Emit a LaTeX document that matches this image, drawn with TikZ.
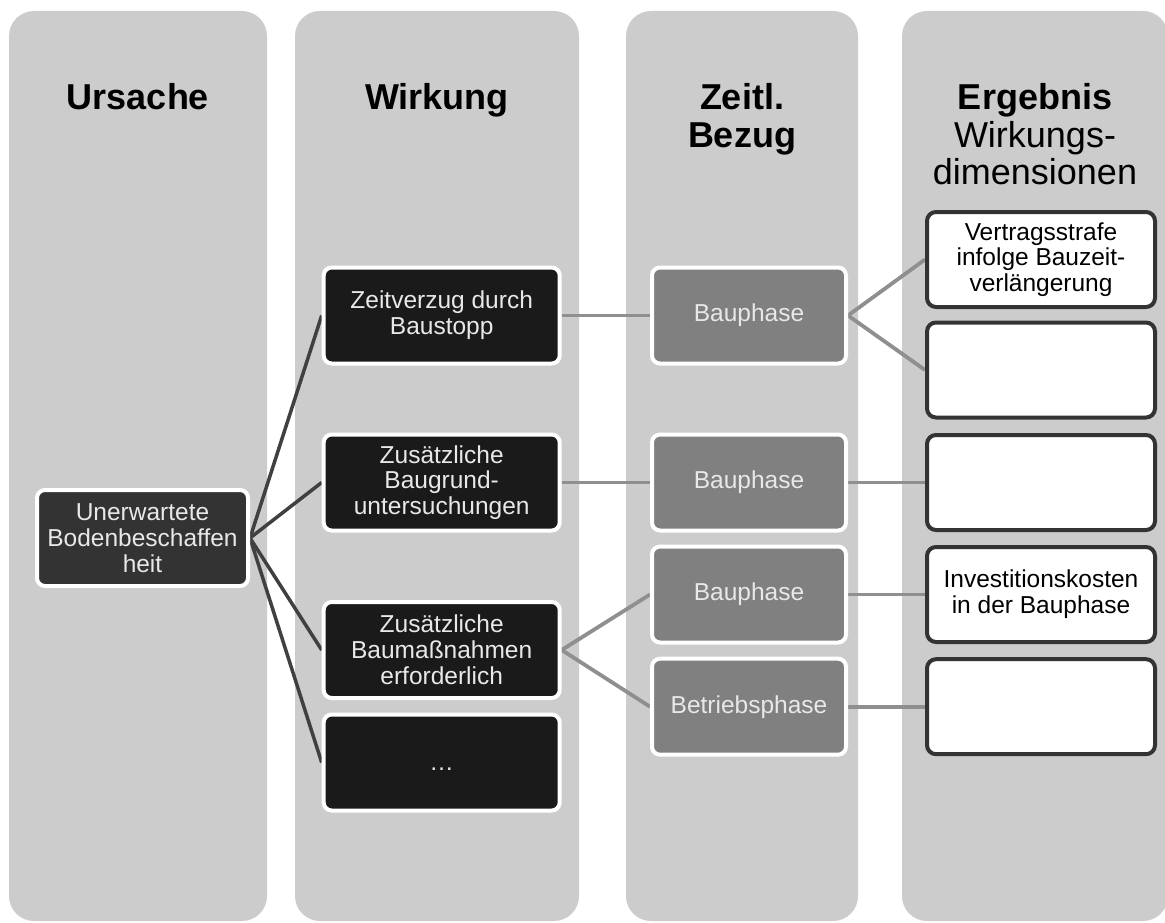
\documentclass[tikz,border=0pt]{standalone}
\usepackage{fontspec}
\setmainfont{Liberation Sans}
\usetikzlibrary{backgrounds}
\definecolor{colgray}{HTML}{CCCCCC}
\definecolor{causefill}{HTML}{333333}
\definecolor{effectfill}{HTML}{1A1A1A}
\definecolor{phasefill}{HTML}{808080}
\definecolor{lighttext}{HTML}{E8E8E8}
\definecolor{resborder}{HTML}{333333}
\definecolor{darkline}{HTML}{404040}
\definecolor{grayline}{HTML}{8F8F8F}
\newcommand\bxfont{\fontsize{24.5}{25.8}\selectfont}
\newcommand\ttlfont{\fontsize{36}{38}\selectfont}
\tikzset{
  colbox/.style={fill=colgray, draw=none, rounded corners=25pt},
  basebox/.style={line width=4pt, rounded corners=8pt, inner sep=0pt,
    minimum height=96pt, align=center, font=\bxfont},
  causebox/.style={basebox, draw=white, fill=causefill, text=lighttext, minimum width=211pt},
  effectbox/.style={basebox, draw=white, fill=effectfill, text=lighttext, minimum width=236pt},
  phasebox/.style={basebox, draw=white, fill=phasefill, text=lighttext, minimum width=194pt},
  resultbox/.style={basebox, draw=resborder, fill=white, text=black, minimum width=228pt, minimum height=95pt, rounded corners=9pt},
  titletext/.style={anchor=base, inner sep=0pt, font=\ttlfont, text=black},
  darkconn/.style={draw=darkline, line width=3.5pt},
  grayconn/.style={draw=grayline, line width=3.8pt},
}
\begin{document}
\begin{tikzpicture}[x=1pt,y=-1pt]
\useasboundingbox (0,0) rectangle (1165,923);

% column titles
\node[titletext] (t1) at (138,110) {\bfseries Ursache};
\node[titletext] (t2) at (437,110) {\bfseries Wirkung};
\node[titletext] (t3) at (742,110) {\begin{tabular}[t]{@{}c@{}}\bfseries Zeitl.\\\bfseries Bezug\end{tabular}};
\node[titletext] (t4) at (1035,110) {\fontsize{36}{37}\selectfont\begin{tabular}[t]{@{}c@{}}\bfseries Ergebnis\\Wirkungs-\\dimensionen\end{tabular}};

% boxes
\node[causebox] (cause) at (142.5,538) {Unerwartete\\Bodenbeschaffen\\heit};

\node[effectbox] (e1) at (441.7,315.5) {Zeitverzug durch\\Baustopp};
\node[effectbox] (e2) at (441.7,482.5) {Zusätzliche\\Baugrund-\\untersuchungen};
\node[effectbox] (e3) at (441.7,650) {Zusätzliche\\Baumaßnahmen\\erforderlich};
\node[effectbox] (e4) at (441.7,762.5) {\vphantom{B}…};

\node[phasebox] (p1) at (749,315.5) {Bauphase};
\node[phasebox] (p2) at (749,482.5) {Bauphase};
\node[phasebox] (p3) at (749,594.5) {Bauphase};
\node[phasebox] (p4) at (749,706.7) {Betriebsphase};

\node[resultbox] (r1) at (1041,259.5) {Vertragsstrafe\\infolge Bauzeit-\\verlängerung};
\node[resultbox] (r2) at (1041,370) {};
\node[resultbox] (r3) at (1041,482.5) {};
\node[resultbox] (r4) at (1041,594.5) {Investitionskosten\\in der Bauphase};
\node[resultbox] (r5) at (1041,706.7) {};

\begin{scope}[on background layer]
  \fill[white] (0,0) rectangle (1165,923);
  \fill[colbox] (9,11) rectangle (267,921);
  \fill[colbox] (295,11) rectangle (579,921);
  \fill[colbox] (626,11) rectangle (858,921);
  \fill[colbox] (902,11) rectangle (1168,921);

  \draw[darkconn] (cause.east) -- (e1.west);
  \draw[darkconn] (cause.east) -- (e2.west);
  \draw[darkconn] (cause.east) -- (e3.west);
  \draw[darkconn] (cause.east) -- (e4.west);

  \draw[grayconn] (e1.east) -- (p1.west);
  \draw[grayconn] (e2.east) -- (p2.west);
  \draw[grayconn] (e3.east) -- (p3.west);
  \draw[grayconn] (e3.east) -- (p4.west);

  \draw[grayconn] (p1.east) -- (r1.west);
  \draw[grayconn] (p1.east) -- (r2.west);
  \draw[grayconn] (p2.east) -- (r3.west);
  \draw[grayconn] (p3.east) -- (r4.west);
  \draw[grayconn] (p4.east) -- (r5.west);
\end{scope}
\end{tikzpicture}
\end{document}
